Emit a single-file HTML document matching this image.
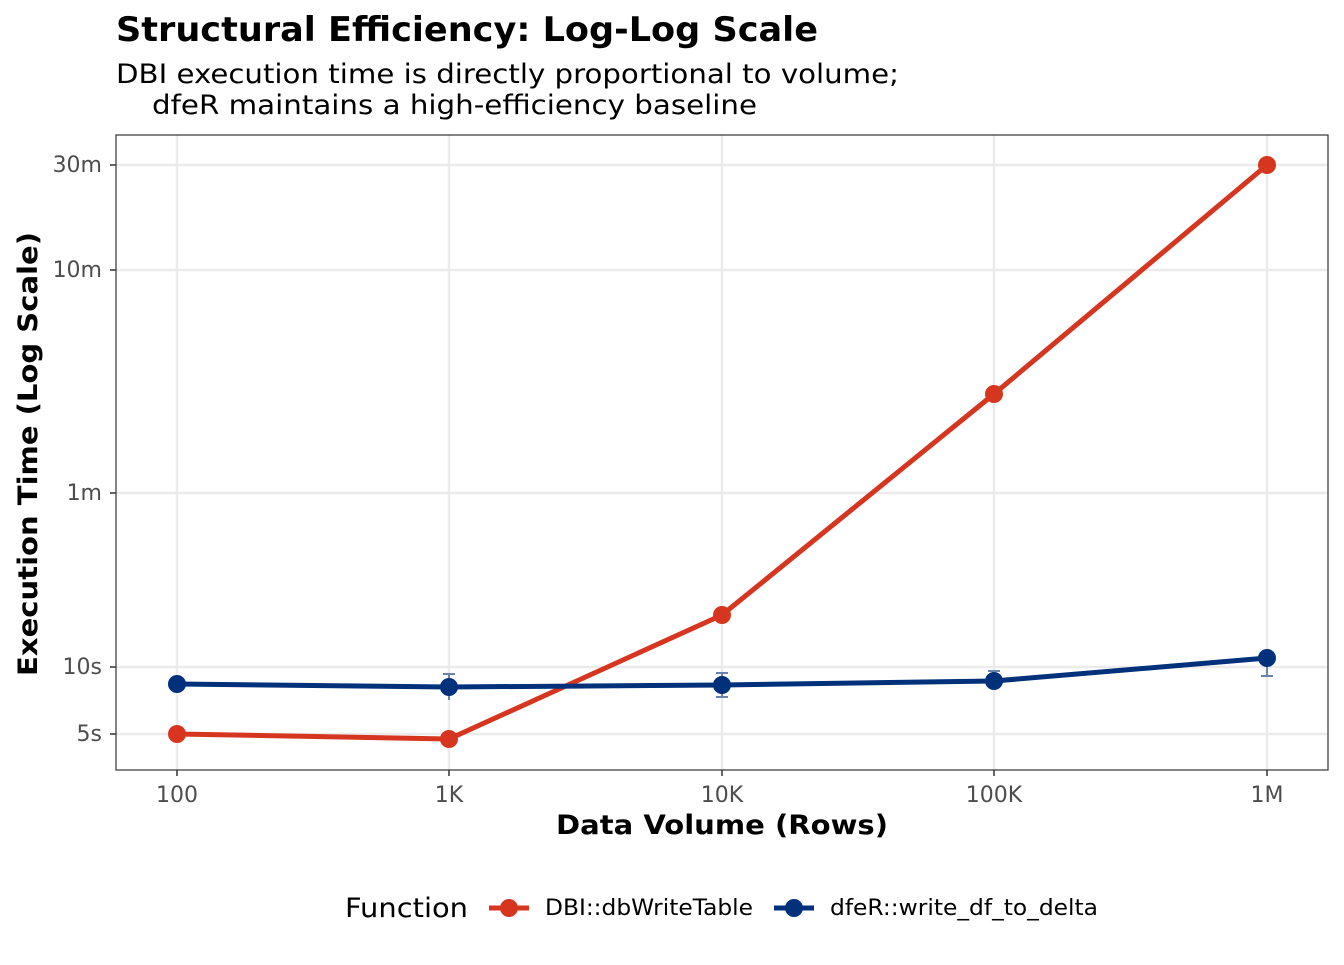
<!DOCTYPE html>
<html><head><style>body{margin:0;background:#fff}</style></head><body>
<svg width="1344" height="960" xmlns="http://www.w3.org/2000/svg" font-family="DejaVu Sans, Liberation Sans, sans-serif">
<rect width="1344" height="960" fill="#fff"/>
<text x="116" y="41" font-size="34" font-weight="bold" textLength="702" lengthAdjust="spacingAndGlyphs">Structural Efficiency: Log-Log Scale</text>
<text x="116" y="83" font-size="27" textLength="783" lengthAdjust="spacingAndGlyphs">DBI execution time is directly proportional to volume;</text>
<text x="152" y="114" font-size="27" textLength="605" lengthAdjust="spacingAndGlyphs">dfeR maintains a high-efficiency baseline</text>
<g stroke="#ebebeb" stroke-width="2.5">
<line x1="116" x2="1328" y1="165" y2="165"/><line x1="116" x2="1328" y1="270" y2="270"/>
<line x1="116" x2="1328" y1="493" y2="493"/><line x1="116" x2="1328" y1="667" y2="667"/>
<line x1="116" x2="1328" y1="734" y2="734"/>
<line y1="135" y2="770" x1="177" x2="177"/><line y1="135" y2="770" x1="449" x2="449"/>
<line y1="135" y2="770" x1="722" x2="722"/><line y1="135" y2="770" x1="994" x2="994"/>
<line y1="135" y2="770" x1="1267" x2="1267"/>
</g>
<g stroke="#6a85ad" stroke-width="2">
<line x1="449" x2="449" y1="674" y2="700"/><line x1="443" x2="455" y1="674" y2="674"/>
<line x1="722" x2="722" y1="673" y2="697"/><line x1="716" x2="728" y1="673" y2="673"/><line x1="716" x2="728" y1="697" y2="697"/>
<line x1="994" x2="994" y1="671" y2="690"/><line x1="988" x2="1000" y1="671" y2="671"/>
<line x1="1267" x2="1267" y1="650" y2="676"/><line x1="1261" x2="1273" y1="676" y2="676"/>
</g>
<polyline points="177,734 449,739 722,615 994,394 1267,165" fill="none" stroke="#d6361f" stroke-width="5"/>
<g fill="#d6361f"><circle cx="177" cy="734" r="9"/><circle cx="449" cy="739" r="9"/><circle cx="722" cy="615" r="9"/><circle cx="994" cy="394" r="9"/><circle cx="1267" cy="165" r="9"/></g>
<polyline points="177,684 449,687 722,685 994,681 1267,658" fill="none" stroke="#00317a" stroke-width="5"/>
<g fill="#00317a"><circle cx="177" cy="684" r="9"/><circle cx="449" cy="687" r="9"/><circle cx="722" cy="685" r="9"/><circle cx="994" cy="681" r="9"/><circle cx="1267" cy="658" r="9"/></g>
<rect x="116" y="135" width="1212" height="635" fill="none" stroke="#333" stroke-width="1.2"/>
<g stroke="#333" stroke-width="1.5">
<line x1="110" x2="116" y1="165" y2="165"/><line x1="110" x2="116" y1="270" y2="270"/><line x1="110" x2="116" y1="493" y2="493"/><line x1="110" x2="116" y1="667" y2="667"/><line x1="110" x2="116" y1="734" y2="734"/>
<line y1="770" y2="776" x1="177" x2="177"/><line y1="770" y2="776" x1="449" x2="449"/><line y1="770" y2="776" x1="722" x2="722"/><line y1="770" y2="776" x1="994" x2="994"/><line y1="770" y2="776" x1="1267" x2="1267"/>
</g>
<g font-size="22" fill="#4d4d4d" text-anchor="end">
<text x="102" y="172">30m</text><text x="102" y="277">10m</text><text x="102" y="500">1m</text><text x="102" y="674">10s</text><text x="102" y="741">5s</text>
</g>
<g font-size="22" fill="#4d4d4d" text-anchor="middle">
<text x="177" y="802">100</text><text x="449" y="802">1K</text><text x="722" y="802">10K</text><text x="994" y="802">100K</text><text x="1267" y="802">1M</text>
</g>
<text x="556" y="834" font-size="27" font-weight="bold" textLength="332" lengthAdjust="spacingAndGlyphs">Data Volume (Rows)</text>
<text transform="translate(37,676) rotate(-90)" font-size="27" font-weight="bold" textLength="444" lengthAdjust="spacingAndGlyphs">Execution Time (Log Scale)</text>
<text x="345" y="917" font-size="27" textLength="123" lengthAdjust="spacingAndGlyphs">Function</text>
<line x1="489" x2="529" y1="908" y2="908" stroke="#d6361f" stroke-width="5"/><circle cx="509" cy="908" r="9" fill="#d6361f"/>
<text x="545" y="915" font-size="22" textLength="208" lengthAdjust="spacingAndGlyphs">DBI::dbWriteTable</text>
<line x1="774" x2="814" y1="908" y2="908" stroke="#00317a" stroke-width="5"/><circle cx="794" cy="908" r="9" fill="#00317a"/>
<text x="830" y="915" font-size="22" textLength="268" lengthAdjust="spacingAndGlyphs">dfeR::write_df_to_delta</text>
</svg>
</body></html>
